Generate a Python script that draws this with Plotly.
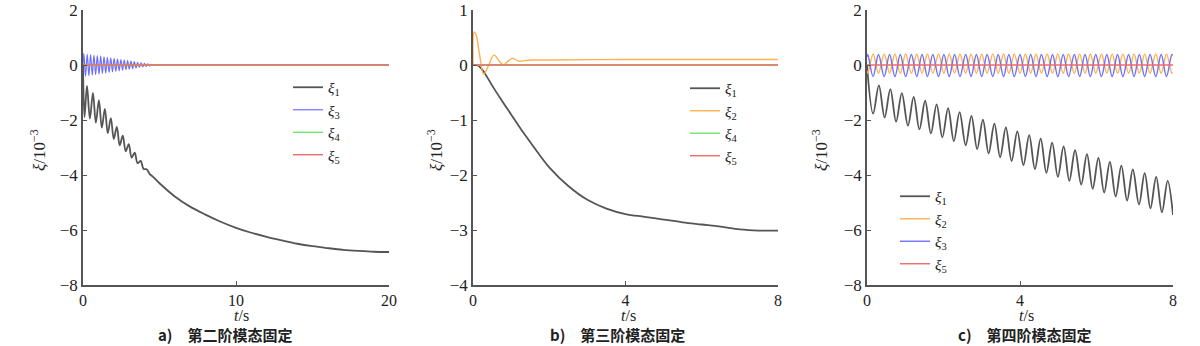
import plotly.graph_objects as go

# ---------------- data ----------------
# Panel a) 第二阶模态固定, t in s, values in 1e-3
ta_xi1 = [0.00, 0.10, 0.26, 0.45, 0.65, 0.84, 1.04, 1.23, 1.43, 1.62, 1.82, 2.01,
          2.21, 2.40, 2.60, 2.79, 2.99, 3.18, 3.38, 3.57, 3.77, 3.96, 4.16, 4.35,
          4.60, 5.0, 6.0, 7.0, 8.0, 9.0, 10.0, 11.0, 12.0, 13.0, 14.0, 15.0, 16.0,
          17.0, 18.0, 19.0, 20.0]
a_xi1 = [0.00, -1.90, -0.76, -1.95, -1.01, -2.10, -1.28, -2.28, -1.60, -2.48, -1.93, -2.69,
         -2.25, -2.92, -2.57, -3.14, -2.88, -3.37, -3.19, -3.57, -3.49, -3.78, -3.79, -3.96,
         -4.08, -4.30, -4.78, -5.15, -5.44, -5.70, -5.92, -6.10, -6.25, -6.38, -6.50, -6.59,
         -6.66, -6.72, -6.76, -6.79, -6.80]
ta_xi3 = [0.000, 0.055, 0.165, 0.275, 0.385, 0.495, 0.605, 0.715, 0.825, 0.935, 1.045,
          1.155, 1.265, 1.375, 1.485, 1.595, 1.705, 1.815, 1.925, 2.035, 2.145, 2.255,
          2.365, 2.475, 2.585, 2.695, 2.805, 2.915, 3.025, 3.135, 3.245, 3.355, 3.465,
          3.575, 3.685, 3.795, 3.905, 4.015, 4.125, 4.235, 4.345, 4.455, 4.565, 5.0, 20.0]
a_xi3 = [0.00, 0.42, -0.41, 0.40, -0.39, 0.38, -0.37, 0.36, -0.35, 0.34, -0.33,
         0.32, -0.31, 0.30, -0.29, 0.28, -0.27, 0.26, -0.25, 0.24, -0.23, 0.22,
         -0.21, 0.20, -0.19, 0.18, -0.17, 0.16, -0.15, 0.14, -0.13, 0.12, -0.11,
         0.10, -0.09, 0.08, -0.07, 0.06, -0.05, 0.04, -0.03, 0.02, -0.01, 0.00, 0.00]
ta_flat = [0.0, 20.0]
a_xi4 = [0.0, 0.0]
a_xi5 = [0.0, 0.0]

# Panel b) 第三阶模态固定
tb_xi1 = [0.0, 0.1, 0.2, 0.3, 0.5, 0.75, 1.0, 1.25, 1.5, 1.75, 2.0, 2.5, 3.0, 3.5,
          4.0, 4.5, 5.0, 5.5, 6.0, 6.5, 7.0, 7.5, 8.0]
b_xi1 = [0.0, 0.0, -0.05, -0.14, -0.37, -0.64, -0.90, -1.16, -1.40, -1.64, -1.86,
         -2.20, -2.45, -2.61, -2.71, -2.76, -2.81, -2.86, -2.90, -2.94, -2.99, -3.01, -3.01]
tb_xi2 = [0.0, 0.03, 0.08, 0.17, 0.28, 0.40, 0.55, 0.70, 0.80, 0.95, 1.05, 1.20,
          1.35, 1.50, 2.0, 4.0, 6.0, 8.0]
b_xi2 = [0.0, 0.60, 0.55, 0.20, -0.17, -0.02, 0.18, 0.06, 0.00, 0.09, 0.12, 0.07,
         0.08, 0.09, 0.09, 0.10, 0.10, 0.10]
tb_flat = [0.0, 8.0]
b_xi4 = [0.0, 0.0]
b_xi5 = [0.0, 0.0]

# Panel c) 第四阶模态固定
tc_xi1 = [0.00, 0.16, 0.31, 0.46, 0.61, 0.76, 0.91, 1.07, 1.22, 1.37, 1.52, 1.67, 1.82,
          1.97, 2.12, 2.27, 2.42, 2.58, 2.73, 2.88, 3.03, 3.18, 3.33, 3.48, 3.63,
          3.78, 3.93, 4.09, 4.24, 4.39, 4.54, 4.69, 4.84, 4.99, 5.14, 5.29, 5.44,
          5.60, 5.75, 5.90, 6.05, 6.20, 6.35, 6.50, 6.65, 6.80, 6.95, 7.11, 7.26,
          7.41, 7.56, 7.71, 7.86, 8.00]
c_xi1 = [0.00, -1.77, -0.74, -1.91, -0.88, -2.06, -1.02, -2.20, -1.16, -2.34, -1.30, -2.49, -1.43,
         -2.63, -1.57, -2.77, -1.71, -2.92, -1.85, -3.06, -1.99, -3.21, -2.13, -3.35, -2.27,
         -3.49, -2.41, -3.64, -2.55, -3.78, -2.68, -3.92, -2.82, -4.07, -2.96, -4.21, -3.10,
         -4.35, -3.24, -4.50, -3.38, -4.64, -3.52, -4.78, -3.66, -4.93, -3.80, -5.07, -3.93,
         -5.21, -4.07, -5.36, -4.21, -5.45]
tc_osc = [0.00, 0.02, 0.16, 0.30, 0.45, 0.59, 0.73, 0.87, 1.01, 1.16, 1.30, 1.44, 1.58,
          1.72, 1.87, 2.01, 2.15, 2.29, 2.43, 2.58, 2.72, 2.86, 3.00, 3.14, 3.29,
          3.43, 3.57, 3.71, 3.85, 4.00, 4.14, 4.28, 4.42, 4.56, 4.71, 4.85, 4.99,
          5.13, 5.27, 5.42, 5.56, 5.70, 5.84, 5.98, 6.13, 6.27, 6.41, 6.55, 6.69,
          6.84, 6.98, 7.12, 7.26, 7.40, 7.55, 7.69, 7.83, 7.97, 8.00]
c_xi2 = [-0.20, -0.30, 0.40, -0.30, 0.40, -0.30, 0.40, -0.30, 0.40, -0.30, 0.40, -0.30, 0.40,
         -0.30, 0.40, -0.30, 0.40, -0.30, 0.40, -0.30, 0.40, -0.30, 0.40, -0.30, 0.40,
         -0.30, 0.40, -0.30, 0.40, -0.30, 0.40, -0.30, 0.40, -0.30, 0.40, -0.30, 0.40,
         -0.30, 0.40, -0.30, 0.40, -0.30, 0.40, -0.30, 0.40, -0.30, 0.40, -0.30, 0.40,
         -0.30, 0.40, -0.30, 0.40, -0.30, 0.40, -0.30, 0.40, -0.30, -0.28]
c_xi3 = [0.30, 0.38, -0.42, 0.38, -0.42, 0.38, -0.42, 0.38, -0.42, 0.38, -0.42, 0.38, -0.42,
         0.38, -0.42, 0.38, -0.42, 0.38, -0.42, 0.38, -0.42, 0.38, -0.42, 0.38, -0.42,
         0.38, -0.42, 0.38, -0.42, 0.38, -0.42, 0.38, -0.42, 0.38, -0.42, 0.38, -0.42,
         0.38, -0.42, 0.38, -0.42, 0.38, -0.42, 0.38, -0.42, 0.38, -0.42, 0.38, -0.42,
         0.38, -0.42, 0.38, -0.42, 0.38, -0.42, 0.38, -0.42, 0.38, 0.36]
tc_flat = [0.0, 8.0]
c_xi5 = [0.0, 0.0]

# axis ticks and texts
a_xticks = [0, 10, 20]
a_yticks = [-8, -6, -4, -2, 0, 2]
b_xticks = [0, 4, 8]
b_yticks = [-4, -3, -2, -1, 0, 1]
c_xticks = [0, 4, 8]
c_yticks = [-8, -6, -4, -2, 0, 2]
captions = ["a)\u3000第二阶模态固定", "b)\u3000第三阶模态固定", "c)\u3000第四阶模态固定"]

# ---------------- styling ----------------
W, H = 1200, 346
COL = {"1": "#555555", "2": "#ffb14e", "3": "#6f6fff", "4": "#6ee66e", "5": "#ec6a6a"}
SERIF = "Liberation Serif, Times New Roman, serif"


def px_x(p):
    return p / W


def px_y(p):
    return (H - p) / H


ydom = [px_y(285), px_y(10)]
xdoms = [[px_x(83), px_x(389)], [px_x(473), px_x(778)], [px_x(867), px_x(1173)]]

fig = go.Figure()


def add(x, y, num, xa, ya, leg, width=1.4):
    fig.add_trace(go.Scatter(
        x=x, y=y, mode="lines", name="<i>ξ</i><sub>%s</sub>" % num,
        line=dict(color=COL[num], width=width, shape="spline", smoothing=1.0),
        xaxis=xa, yaxis=ya, legend=leg, hoverinfo="skip"))


# panel a
add(ta_xi1, a_xi1, "1", "x", "y", "legend", 1.8)
add(ta_xi3, a_xi3, "3", "x", "y", "legend", 1.2)
add(ta_flat, a_xi4, "4", "x", "y", "legend")
add(ta_flat, a_xi5, "5", "x", "y", "legend")
# panel b
add(tb_xi1, b_xi1, "1", "x2", "y2", "legend2", 1.8)
add(tb_xi2, b_xi2, "2", "x2", "y2", "legend2")
add(tb_flat, b_xi4, "4", "x2", "y2", "legend2")
add(tb_flat, b_xi5, "5", "x2", "y2", "legend2")
# panel c
add(tc_xi1, c_xi1, "1", "x3", "y3", "legend3", 1.8)
add(tc_osc, c_xi2, "2", "x3", "y3", "legend3")
add(tc_osc, c_xi3, "3", "x3", "y3", "legend3")
add(tc_flat, c_xi5, "5", "x3", "y3", "legend3")

axis_common = dict(showline=True, linecolor="#555", linewidth=1.5, ticks="inside",
                   ticklen=4, tickcolor="#555", tickwidth=1, showgrid=False,
                   zeroline=False, mirror=False, fixedrange=True, automargin=False)
yfont = dict(family=SERIF, size=17, color="#222")
xfont = dict(family=SERIF, size=16, color="#222")

layout = dict(width=W, height=H, margin=dict(l=0, r=0, t=0, b=0, autoexpand=False),
              paper_bgcolor="white", plot_bgcolor="white", showlegend=True,
              font=dict(family=SERIF, color="#222"))

panels = [(a_xticks, a_yticks, [0, 20], [-8, 2]),
          (b_xticks, b_yticks, [0, 8], [-4, 1]),
          (c_xticks, c_yticks, [0, 8], [-8, 2])]
for i, (xt, yt, xr, yr) in enumerate(panels):
    sfx = "" if i == 0 else str(i + 1)
    layout["xaxis" + sfx] = dict(domain=xdoms[i], range=xr, tickvals=xt,
                                 anchor="y" + sfx, tickfont=xfont, **axis_common)
    layout["yaxis" + sfx] = dict(domain=ydom, range=yr, tickvals=yt,
                                 anchor="x" + sfx, tickfont=yfont, **axis_common)

leg_common = dict(xanchor="left", yanchor="top", bgcolor="rgba(0,0,0,0)",
                  font=dict(family=SERIF, size=15, color="#222"), tracegroupgap=0)
layout["legend"] = dict(x=px_x(288), y=px_y(71), **leg_common)
layout["legend2"] = dict(x=px_x(685), y=px_y(72), **leg_common)
layout["legend3"] = dict(x=px_x(895), y=px_y(180), **leg_common)

ann = []
ytitle_x = [38, 435, 820]
xtitle_x = [241, 628, 1026]
cap_x = [225, 617, 1025]
for i in range(3):
    ann.append(dict(xref="paper", yref="paper", x=px_x(ytitle_x[i]), y=px_y(150),
                    text="<i>ξ</i>/10<sup>−3</sup>", textangle=-90, showarrow=False,
                    font=dict(family=SERIF, size=17, color="#222"),
                    xanchor="center", yanchor="middle"))
    ann.append(dict(xref="paper", yref="paper", x=px_x(xtitle_x[i]), y=px_y(315.5),
                    text="<i>t</i>/s", showarrow=False, borderpad=0,
                    font=dict(family=SERIF, size=16, color="#222"),
                    xanchor="center", yanchor="middle"))
    ann.append(dict(xref="paper", yref="paper", x=px_x(cap_x[i]), y=px_y(334.5),
                    text="<b>" + captions[i] + "</b>", showarrow=False, borderpad=0,
                    font=dict(family="Noto Sans CJK SC", size=15, color="#222"),
                    xanchor="center", yanchor="middle"))
layout["annotations"] = ann

fig.update_layout(**layout)
fig.write_html("out.html")
